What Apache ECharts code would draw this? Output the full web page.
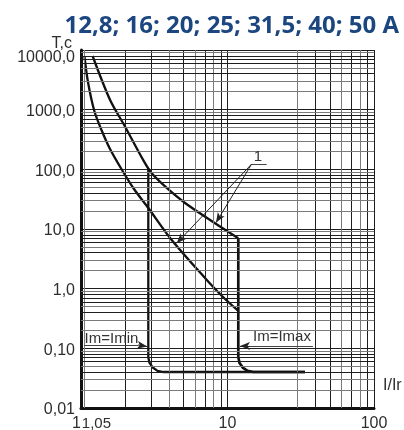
<!DOCTYPE html>
<html><head><meta charset="utf-8">
<script src="https://cdn.jsdelivr.net/npm/echarts@6/dist/echarts.min.js"></script>
<style>html,body{margin:0;padding:0;background:#fff}#c{width:404px;height:430px}</style>
</head><body><div id="c"></div>
<script>
// ---- data ----
const titleText = '12,8; 16; 20; 25; 31,5; 40; 50 A';
const yAxisName = 'T,c';
const xAxisName = 'I/Ir';
const yTickLabels = ['0,01', '0,10', '1,0', '10,0', '100,0', '1000,0', '10000,0']; // 10^-2 .. 10^4
const xTickLabels = ['1', '10', '100'];                                          // 10^0 .. 10^2
const xMinorLabel = '1,05';
const xMinorLines = [1.05, 2, 3, 4, 5, 6, 7, 8, 9, 30, 40, 50, 60, 70, 80, 90];
const yDecades = [0.01, 0.1, 1, 10, 100, 1000];
const yMultipliers = [2, 3, 4, 5, 6, 7, 8, 9];

const upperCurve = [[1.20, 7930], [1.58, 1452], [2.00, 518], [2.66, 143], [3.04, 85.8], [3.85, 48.7], [5.13, 27.3], [8.22, 12.5], [11.85, 6.99]];
const lowerCurve = [[1.056, 7930], [1.116, 2910], [1.233, 950], [1.38, 456], [1.578, 219], [1.905, 97.5], [2.30, 46.8], [2.88, 22.5], [4.16, 6.54], [7.02, 1.51], [9.17, 0.754], [11.85, 0.423]];
const iminPath = [[2.88, 104], [2.88, 0.0716], [2.93, 0.0575], [3.09, 0.0476], [3.33, 0.0419], [3.65, 0.0401], [33.8, 0.0401]];
const imaxPath = [[11.85, 6.99], [11.85, 0.0716], [12.06, 0.0575], [12.7, 0.0476], [13.72, 0.0419], [15.0, 0.0401], [33.8, 0.0401]];

const leaderLines = [[[14.63, 123], [4.50, 5.76]], [[14.63, 123], [8.35, 12.8]]];
const arrowLines = [[[2.45, 0.1138], [2.83, 0.107]], [[14.24, 0.1095], [12.17, 0.1095]]];
const underLines = [[[14.63, 123], [18.5, 123]], [[1.048, 0.1138], [2.45, 0.1138]], [[14.24, 0.1095], [38.3, 0.1095]]];
const annotationTexts = [['1', 16.15, 161], ['Im=Imin', 1.615, 0.146], ['Im=Imax', 23.55, 0.155]];

// ---- styles ----
const FONT = 'Liberation Sans';
const TXT = '#2e2e2e';
const DARK = '#1e1e1e';
const GRAY = '#7a7a7a';
const xGrayAt = [1.05, 4, 6, 8, 30, 60, 80];
const yGrayMult = [2, 3, 5, 9];

const gridLineData = [];
xMinorLines.forEach(v => gridLineData.push({ xAxis: v, lineStyle: { color: xGrayAt.includes(v) ? GRAY : DARK } }));
yDecades.forEach(d => yMultipliers.forEach(k => gridLineData.push({ yAxis: +(d * k).toPrecision(3), lineStyle: { color: yGrayMult.includes(k) ? GRAY : DARK } })));

const curveStyle = { color: '#111', width: 2.3 };
const toPair = seg => [{ coord: seg[0] }, { coord: seg[1] }];

const option = {
  animation: false,
  backgroundColor: '#fff',
  title: {
    text: titleText, right: 5, top: 14, padding: 0,
    textStyle: { fontFamily: 'Open Sans', fontWeight: 'bold', fontSize: 24, color: '#1b4680' }
  },
  graphic: [{
    type: 'text', left: 383, top: 378, silent: true,
    style: { text: xAxisName, fontFamily: FONT, fontSize: 16, fill: TXT }
  }],
  grid: { left: 81, right: 30, top: 50, bottom: 22, containLabel: false, outerBoundsMode: 'none' },
  xAxis: {
    type: 'log', logBase: 10, min: 1, max: 100,
    axisLine: { show: true, lineStyle: { color: '#111', width: 3 } },
    axisTick: { show: false },
    splitLine: { show: true, lineStyle: { color: DARK, width: 1 } },
    axisLabel: {
      margin: 8, fontFamily: FONT, fontSize: 16, color: TXT, showMinLabel: true, showMaxLabel: true,
      formatter: function (v) {
        const i = Math.round(Math.log10(v));
        if (i === 0) return '{a|' + xTickLabels[0] + '}{b|' + xMinorLabel + '}';
        return xTickLabels[i] || '';
      },
      rich: {
        a: { fontFamily: FONT, fontSize: 16, color: TXT, padding: [0, 1, 0, 21] },
        b: { fontFamily: FONT, fontSize: 15, color: TXT }
      }
    }
  },
  yAxis: {
    type: 'log', logBase: 10, min: 0.01, max: 10000,
    name: yAxisName, nameLocation: 'end', nameGap: -2, nameMoveOverlap: false,
    nameTextStyle: { fontFamily: FONT, fontSize: 16, color: TXT, align: 'right', verticalAlign: 'bottom', padding: [0, 9, 0, 0] },
    axisLine: { show: true, lineStyle: { color: '#111', width: 3 } },
    axisTick: { show: false },
    splitLine: { show: true, lineStyle: { color: DARK, width: 1 } },
    axisLabel: {
      margin: 6, fontFamily: FONT, fontSize: 16, color: TXT, showMinLabel: true, showMaxLabel: true,
      formatter: function (v) {
        const i = Math.round(Math.log10(v)) + 2;
        const s = yTickLabels[i] || '';
        return (i === 6 ? '{t|' : '{n|') + s + '}';
      },
      rich: {
        n: { fontFamily: FONT, fontSize: 16, color: TXT, padding: [4, 0, 0, 0] },
        t: { fontFamily: FONT, fontSize: 16, color: TXT, padding: [16, 0, 0, 0] }
      }
    }
  },
  series: [
    {
      name: 'grid', type: 'line', z: 1, data: [[1, 0.01]], showSymbol: false, lineStyle: { opacity: 0 }, silent: true,
      markLine: { silent: true, animation: false, symbol: ['none', 'none'], label: { show: false },
        lineStyle: { type: 'solid', width: 1 }, data: gridLineData }
    },
    { name: 'upper', type: 'line', z: 3, data: upperCurve, showSymbol: false, smooth: 0.3, lineStyle: curveStyle },
    { name: 'lower', type: 'line', z: 3, data: lowerCurve, showSymbol: false, smooth: 0.3, lineStyle: curveStyle },
    { name: 'imin', type: 'line', z: 3, data: iminPath, showSymbol: false, smooth: false, lineStyle: curveStyle },
    { name: 'imax', type: 'line', z: 3, data: imaxPath, showSymbol: false, smooth: false, lineStyle: { color: '#111', width: 2.7 } },
    {
      name: 'arrows', type: 'line', z: 4, data: [], silent: true,
      markLine: { silent: true, animation: false, symbol: ['none', 'arrow'], symbolSize: [6, 10], label: { show: false },
        lineStyle: { type: 'solid', width: 1, color: '#222' },
        data: leaderLines.concat(arrowLines).map(toPair) }
    },
    {
      name: 'notes', type: 'line', z: 4, data: [], silent: true,
      markLine: { silent: true, animation: false, symbol: ['none', 'none'], label: { show: false },
        lineStyle: { type: 'solid', width: 1, color: '#444' },
        data: underLines.map(toPair) },
      markPoint: { silent: true, animation: false, symbol: 'circle', symbolSize: 1, itemStyle: { color: 'rgba(0,0,0,0)' },
        label: { show: true, position: 'inside', fontFamily: FONT, fontSize: 15, color: '#333', formatter: p => p.name },
        data: annotationTexts.map(t => ({ name: t[0], coord: [t[1], t[2]] })) }
    }
  ]
};
const chart = echarts.init(document.getElementById('c'));
chart.setOption(option);
</script>
</body></html>
